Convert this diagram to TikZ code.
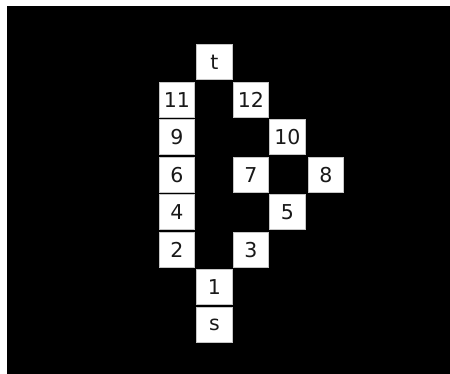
\documentclass[tikz,border=0pt]{standalone}
\usepackage{fontspec}
\setmainfont{DejaVu Sans}
\begin{document}
\begin{tikzpicture}[x=1pt,y=-1pt,
  cell/.style={draw=gray!45,line width=0.6pt,fill=white,minimum width=35.5pt,minimum height=35pt,inner sep=0pt,font=\fontsize{20.5}{20.5}\selectfont,text=black!90}]
\useasboundingbox (0,0) rectangle (450,374);
\fill[white] (0,0) rectangle (450,374);
\fill[black] (7,6) rectangle (450,374);
% columns: A 177, B 214.5, C 251, D 287.5, E 326
% rows: 62,100,137,175,212,250,287,324.5
\node[cell] (t)  at (214.5,62) {t};
\node[cell] (n11) at (177,100) {11};
\node[cell] (n12) at (251,100) {12};
\node[cell] (n9)  at (177,137) {9};
\node[cell] (n10) at (287.5,137) {10};
\node[cell] (n6)  at (177,175) {6};
\node[cell] (n7)  at (251,175) {7};
\node[cell] (n8)  at (326,175) {8};
\node[cell] (n4)  at (177,212) {4};
\node[cell] (n5)  at (287.5,212) {5};
\node[cell] (n2)  at (177,250) {2};
\node[cell] (n3)  at (251,250) {3};
\node[cell] (n1)  at (214.5,287) {1};
\node[cell] (s)   at (214.5,324.5) {s};
\end{tikzpicture}
\end{document}
